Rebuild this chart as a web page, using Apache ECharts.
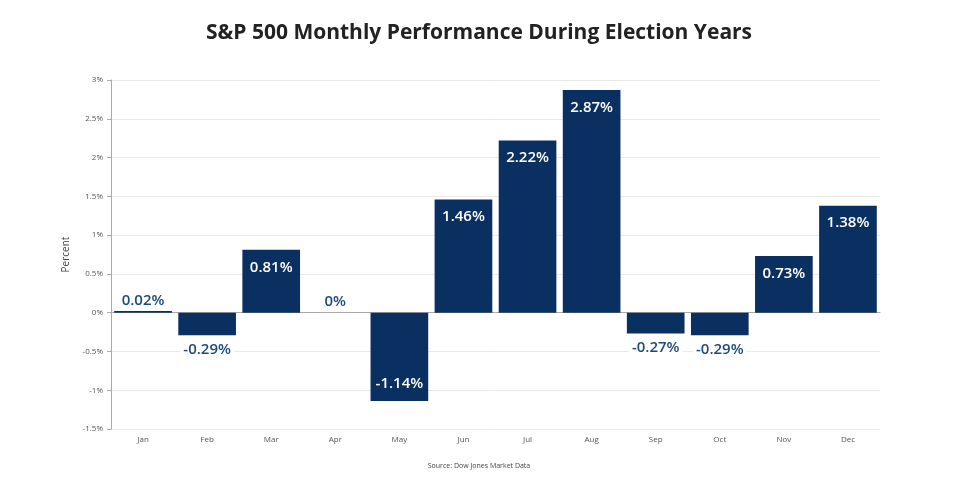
<!DOCTYPE html>
<html>
<head>
<meta charset="utf-8">
<script src="https://cdn.jsdelivr.net/npm/echarts@6/dist/echarts.min.js"></script>
<style>
  html, body { margin: 0; padding: 0; background: #fff; }
  #chart { width: 958px; height: 489px; }
</style>
</head>
<body>
<div id="chart"></div>
<script>
// months and average S&P 500 return (percent) in election years
var months = ['Jan', 'Feb', 'Mar', 'Apr', 'May', 'Jun', 'Jul', 'Aug', 'Sep', 'Oct', 'Nov', 'Dec'];
var returns = [0.02, -0.29, 0.81, 0, -1.14, 1.46, 2.22, 2.87, -0.27, -0.29, 0.73, 1.38];
var titleText = 'S&P 500 Monthly Performance During Election Years';
var sourceText = 'Source: Dow Jones Market Data';

var barColor = '#0a3061';
var font = 'Open Sans';

// small bars get the label outside, bigger ones inside the bar
var seriesData = returns.map(function(v) {
    var inside = Math.abs(v) >= 0.7;
    var pos;
    if (inside) {
        pos = v > 0 ? 'insideTop' : 'insideBottom';
    } else {
        pos = v >= 0 ? 'top' : 'bottom';
    }
    return {
        value: v,
        label: {
            position: pos,
            color: inside ? '#ffffff' : '#1d4a80',
            backgroundColor: inside ? 'transparent' : '#ffffff',
            padding: inside ? [5, 0, 5, 0] : [1, 3, 1, 3],
            distance: inside ? 5 : (v >= 0 ? 2 : 6)
        }
    };
});

var chart = echarts.init(document.getElementById('chart'));
chart.setOption({
    animation: false,
    title: [{
        text: titleText,
        left: 'center',
        top: 18,
        textStyle: { fontFamily: font, fontSize: 21, fontWeight: 'bold', color: '#222' }
    }, {
        text: sourceText,
        left: 'center',
        top: 457,
        textStyle: { fontFamily: font, fontSize: 7, fontWeight: 'normal', color: '#444' }
    }],
    grid: { left: 111, right: 78, top: 80, bottom: 60 },
    xAxis: {
        type: 'category',
        data: months,
        axisLine: { lineStyle: { color: '#aaa' } },
        axisTick: { alignWithLabel: true, lineStyle: { color: '#aaa' } },
        axisLabel: { fontFamily: font, fontSize: 8, color: '#555', margin: 7 }
    },
    yAxis: {
        type: 'value',
        min: -1.5,
        max: 3,
        interval: 0.5,
        name: 'Percent',
        nameLocation: 'middle',
        nameGap: 40,
        nameTextStyle: { fontFamily: font, fontSize: 10, color: '#444' },
        axisLine: { show: true, lineStyle: { color: '#aaa' } },
        axisTick: { show: true, length: 4, lineStyle: { color: '#aaa' } },
        axisLabel: {
            fontFamily: font, fontSize: 8, color: '#555',
            formatter: function(v) { return v + '%'; }
        },
        splitLine: { lineStyle: { color: '#e8e8e8' } }
    },
    series: [{
        type: 'bar',
        data: seriesData,
        barCategoryGap: '10%',
        itemStyle: { color: barColor },
        label: {
            show: true,
            fontFamily: font,
            fontSize: 15,
            fontWeight: 600,
            formatter: function(p) { return p.value + '%'; }
        }
    }]
});
</script>
</body>
</html>
